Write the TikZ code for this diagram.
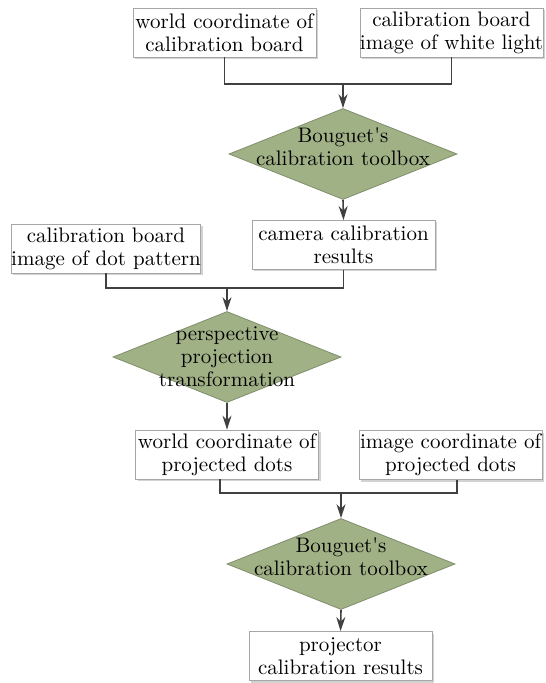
\documentclass[tikz,border=0pt]{standalone}
\usepackage{tikz}
\usetikzlibrary{shapes.geometric,shadows,arrows.meta,positioning}

\definecolor{decgreen}{RGB}{160,177,134}
\definecolor{decedge}{RGB}{128,142,108}
\definecolor{linegray}{RGB}{64,64,64}

\tikzset{
  stepbox/.style={draw=gray!70,fill=white,line width=0.4pt,align=center,
    minimum width=91.5pt,minimum height=24.5pt,inner sep=0pt,
    drop shadow={shadow xshift=1pt,shadow yshift=-1pt,fill=gray!35,opacity=1}},
  decision/.style 2 args={diamond,draw=decedge,fill=decgreen,line width=0.4pt,
    inner sep=0pt,aspect=2.5,minimum width=114pt,minimum height=45.5pt,
    label={[align=center,yshift=#2]center:#1}},
  link/.style={draw=linegray,line width=0.8pt},
  flow/.style={link,-{Stealth[length=7pt,width=4.5pt]}}
}

\begin{document}
\begin{tikzpicture}[x=0.5pt,y=-0.5pt,font=\fontsize{10.5}{11.5}\selectfont]
\useasboundingbox (0,0) rectangle (545,683);

% first stage: camera
\node[stepbox] (world) at (224.5,32.5) {world coordinate of\\calibration board};
\node[stepbox] (white) at (451.5,32.5) {calibration board\\image of white light};
\node[decision={Bouguet\textquotesingle s\\calibration toolbox}{3.5pt}] (bouguetA) at (343,154) {};
\node[stepbox] (camera) at (343.5,245) {camera calibration\\results};
\coordinate (joinA) at (343,84);
\draw[link] (world.south) |- (joinA) -| (white.south);
\draw[flow] (joinA) -- (bouguetA.north);
\draw[flow] (bouguetA.south) -- (camera.north);

% second stage: projection
\node[stepbox] (dots) at (106,248.5) {calibration board\\image of dot pattern};
\node[decision={perspective\\projection\\transformation}{0pt}] (persp) at (227,357) {};
\coordinate (joinB) at (227,288);
\draw[link] (dots.south) |- (joinB) -| (camera.south);
\draw[flow] (joinB) -- (persp.north);

% third stage: projector
\node[stepbox] (worlddots) at (227,454.5) {world coordinate of\\projected dots};
\node[stepbox] (imagedots) at (450.5,455) {image coordinate of\\projected dots};
\draw[flow] (persp.south) -- (worlddots.north);
\node[decision={Bouguet\textquotesingle s\\calibration toolbox}{3.5pt}] (bouguetB) at (341,564) {};
\node[stepbox] (projector) at (340.5,656) {projector\\calibration results};
\coordinate (joinC) at (341,493);
\draw[link] ([xshift=-3.5pt]worlddots.south) |- (joinC) -| ([xshift=3.25pt]imagedots.south);
\draw[flow] (joinC) -- (bouguetB.north);
\draw[flow] (bouguetB.south) -- (projector.north);
\end{tikzpicture}
\end{document}
